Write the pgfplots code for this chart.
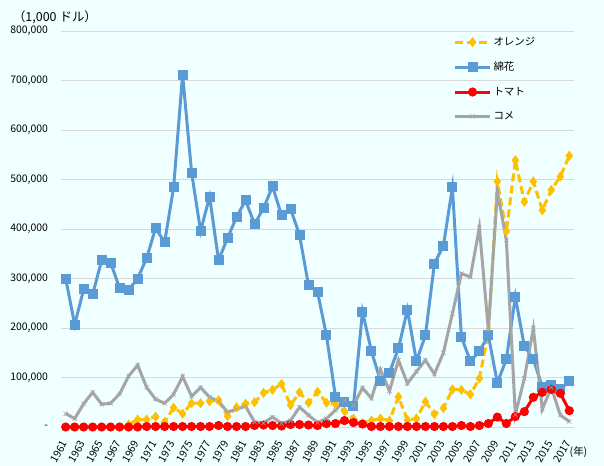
\documentclass[border=0pt]{standalone}
\usepackage{pgfplots}
\pgfplotsset{compat=1.18}
\usepackage{pgfplotstable}
\usepackage{fontspec}
\setmainfont{Noto Sans CJK JP}

\definecolor{bgc}{RGB}{240,255,255}
\definecolor{orangec}{RGB}{255,192,0}
\definecolor{cottonc}{RGB}{91,155,213}
\definecolor{tomatoc}{RGB}{255,0,0}
\definecolor{ricec}{RGB}{165,165,165}
\definecolor{gridc}{RGB}{217,217,217}

% values in 1,000 USD
\pgfplotstableread{
year orange cotton tomato rice
1961 nan 300000 0 27000
1962 nan 207000 0 17000
1963 nan 278000 0 47000
1964 nan 268000 0 70000
1965 nan 337000 0 46000
1966 nan 332000 0 48000
1967 nan 280000 0 67000
1968 5000 277000 0 103000
1969 15000 300000 0 125000
1970 15000 341000 1000 80000
1971 21000 402000 1000 56000
1972 10000 373000 1000 48000
1973 39000 484000 1000 66000
1974 27000 712000 1000 102000
1975 48000 514000 1000 62000
1976 48000 396000 1000 80000
1977 52000 465000 1000 60000
1978 54000 337000 3000 52000
1979 22000 382000 1000 30000
1980 40000 424000 1000 36000
1981 47000 458000 1000 42000
1982 50000 410000 3000 10000
1983 69000 442000 4000 8000
1984 75000 486000 3000 20000
1985 87000 428000 2000 7000
1986 44000 441000 5000 13000
1987 70000 388000 5000 40000
1988 49000 286000 4000 24000
1989 71000 273000 3000 9000
1990 49000 185000 7000 17000
1991 46000 61000 7000 34000
1992 32000 51000 13000 54000
1993 17000 43000 9000 44000
1994 7000 233000 6000 79000
1995 13000 153000 1000 58000
1996 17000 93000 1000 116000
1997 13000 110000 1000 73000
1998 61000 159000 1000 135000
1999 14000 237000 1000 88000
2000 17000 133000 1000 112000
2001 51000 185000 1000 135000
2002 26000 330000 1000 107000
2003 38000 366000 1000 150000
2004 76000 484000 1000 229000
2005 75000 182000 3000 310000
2006 66000 133000 1000 303000
2007 98000 153000 3000 403000
2008 190000 185000 7000 196000
2009 496000 89000 20000 475000
2010 395000 137000 7000 378000
2011 539000 263000 21000 25000
2012 455000 163000 31000 98000
2013 496000 137000 60000 199000
2014 438000 81000 70000 36000
2015 479000 85000 76000 80000
2016 506000 76000 68000 24000
2017 548000 93000 33000 11000
}\datatable

\begin{document}
\begin{tikzpicture}
\fill[bgc] (0bp,0bp) rectangle (604bp,466bp);
\begin{axis}[
    at={(61.2bp,39bp)}, anchor=south west,
    scale only axis, width=512.6bp, height=396bp,
    xmin=1960.5, xmax=2017.5, ymin=0, ymax=800000,
    clip=false,
    axis line style={draw=none},
    ymajorgrids, grid style={gridc, line width=0.8bp},
    major tick length=0,
    scaled y ticks=false,
    ytick={0,100000,...,800000},
    yticklabels={{-},{100,000},{200,000},{300,000},{400,000},{500,000},{600,000},{700,000},{800,000}},
    xtick={1961,1963,...,2017},
    tick label style={font=\fontsize{10.5}{12}\selectfont, /pgf/number format/assume math mode=true},
    xticklabel style={xshift=-1bp, yshift=-14bp, rotate=60, anchor=east, inner sep=0pt, /pgf/number format/1000 sep={}},
    yticklabel style={anchor=east, inner sep=0pt, xshift=-13bp},
    legend style={at={(0.765,0.99)}, anchor=north west, draw=none, fill=none,
        font=\fontsize{10.5}{12}\selectfont, row sep=11bp, inner sep=0pt,
        cells={anchor=west}},
    legend image code/.code={
        \draw[mark repeat=2,mark phase=2,#1] plot coordinates {(0bp,0bp) (17.5bp,0bp) (35bp,0bp)};
    },
]
\addplot[orangec, line width=3bp, dash pattern=on 8bp off 4bp, mark=diamond*, mark size=2.6bp,
    mark options={solid, fill=orangec}] table[x=year, y=orange] {\datatable};
\addplot[cottonc, line width=3bp, mark=square*, mark size=3.5bp,
    mark options={fill=cottonc}] table[x=year, y=cotton] {\datatable};
\addplot[tomatoc, line width=3bp, mark=*, mark size=3bp,
    mark options={fill=tomatoc}] table[x=year, y=tomato] {\datatable};
\addplot[ricec, line width=3bp, mark=x, mark size=3bp,
    mark options={line width=0.6bp}] table[x=year, y=rice] {\datatable};
\legend{オレンジ, 綿花, トマト, コメ}
\end{axis}
\node[font=\fontsize{12.5}{14}\selectfont] at (55bp,449bp) {（1,000\hspace{3bp}ドル）};
\node[font=\fontsize{10.5}{12}\selectfont] at (578.5bp,14bp) {(年)};
\pgfresetboundingbox
\path (0bp,0bp) rectangle (604bp,466bp);
\end{tikzpicture}
\end{document}
